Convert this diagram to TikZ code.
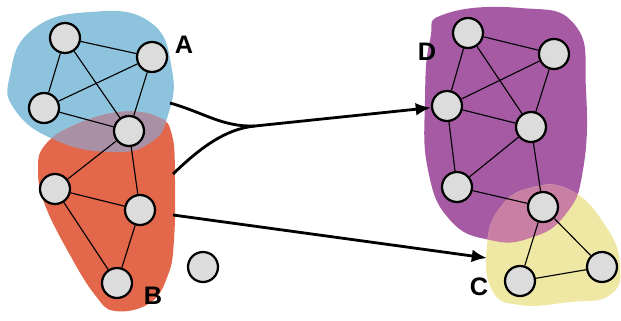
\documentclass[tikz,border=0pt]{standalone}
\usepackage{fontspec}
\setsansfont{Liberation Sans}
\usetikzlibrary{arrows.meta}

\definecolor{blobA}{HTML}{8DC3DD}
\definecolor{blobB}{HTML}{E2674B}
\definecolor{blobC}{HTML}{EEE8A4}
\definecolor{blobD}{HTML}{A65AA4}
\definecolor{blobAB}{HTML}{AA90A4}
\definecolor{blobCD}{HTML}{C97FA3}
\definecolor{vgray}{HTML}{DCDCDC}

\pgfdeclarelayer{back}
\pgfdeclarelayer{mid}
\pgfsetlayers{back,mid,main}

\tikzset{
    vertex/.style={circle, draw=black, line width=1.6pt, fill=vgray, minimum size=0.75cm, inner sep=0pt},
    link/.style={line width=0.8pt},
    flow/.style={line width=2pt},
    tag/.style={font=\sffamily\bfseries\fontsize{18}{18}\selectfont, inner sep=0pt}
}

% blob outlines (pixel coordinates, y downwards)
\newcommand{\shapeA}{plot[smooth cycle, tension=0.8] coordinates {(10,75) (32,30) (90,12) (150,22) (172,70) (168,115) (150,143) (110,152) (55,140) (15,110)}}
\newcommand{\shapeB}{plot[smooth cycle, tension=0.7] coordinates {(120,112) (158,117) (172,135) (175,180) (174,240) (168,275) (150,303) (115,311) (95,295) (70,255) (45,205) (38,170) (45,145) (75,125)}}
\newcommand{\shapeD}{plot[smooth cycle, tension=0.8] coordinates {(445,14) (520,8) (575,25) (586,90) (583,170) (565,215) (530,238) (490,240) (450,220) (428,170) (425,100) (430,40)}}
\newcommand{\shapeC}{plot[smooth cycle, tension=0.8] coordinates {(500,208) (530,188) (570,190) (605,225) (620,265) (610,295) (570,302) (520,305) (492,290) (487,245)}}

\begin{document}
\begin{tikzpicture}[x=0.025cm, y=-0.025cm]
    \useasboundingbox (0, 0) rectangle (621, 321);

    % vertices of A and B
    \node[vertex] (a1) at (65, 38) {};
    \node[vertex] (a2) at (152, 57) {};
    \node[vertex] (a3) at (44, 108) {};
    \node[vertex] (a4) at (129, 131) {};
    \node[vertex] (b1) at (55, 189) {};
    \node[vertex] (b2) at (140, 210) {};
    \node[vertex] (b3) at (117, 283) {};
    \node[vertex] (iso) at (203, 267) {};

    % vertices of D and C
    \node[vertex] (d1) at (468, 33) {};
    \node[vertex] (d2) at (554, 54) {};
    \node[vertex] (d3) at (447, 106) {};
    \node[vertex] (d4) at (531, 127) {};
    \node[vertex] (d5) at (457, 187) {};
    \node[vertex] (d6) at (543, 207) {};
    \node[vertex] (c1) at (520, 281) {};
    \node[vertex] (c2) at (602, 267) {};

    % blobs
    \begin{pgfonlayer}{back}
        \fill[blobA] \shapeA;
        \fill[blobB] \shapeB;
        \begin{scope}
            \clip \shapeA;
            \fill[blobAB] \shapeB;
        \end{scope}
        \fill[blobD] \shapeD;
        \fill[blobC] \shapeC;
        \begin{scope}
            \clip \shapeD;
            \fill[blobCD] \shapeC;
        \end{scope}
    \end{pgfonlayer}

    % edges
    \begin{pgfonlayer}{mid}
    \foreach \u/\v in {a1/a2, a1/a3, a1/a4, a2/a3, a2/a4, a3/a4,
                       a4/b1, a4/b2, b1/b2, b1/b3, b2/b3,
                       d1/d2, d1/d3, d1/d4, d2/d3, d2/d4, d3/d4, d3/d5, d4/d5, d4/d6, d5/d6,
                       d6/c1, d6/c2, c1/c2}
        \draw[link] (\u) -- (\v);
    \end{pgfonlayer}

    % labels
    \node[tag] (lA) at (184, 45) {A};
    \node[tag] (lB) at (153, 296) {B};
    \node[tag] (lC) at (479, 287) {C};
    \node[tag] (lD) at (427, 52) {D};

    % flows
    \coordinate (outA) at (170, 103);
    \coordinate (outB1) at (173, 174);
    \coordinate (outB2) at (173, 215);
    \coordinate (join) at (255, 126);
    \coordinate (inC) at (487, 258);
    \draw[flow] (outA) .. controls (205, 113) and (222, 127) .. (join);
    \draw[flow] (outB1) .. controls (200, 148) and (225, 129) .. (join);
    \draw[flow, -{Latex[length=3.8mm, width=3.2mm]}] (join) -- (d3);
    \draw[flow, -{Latex[length=3.8mm, width=3.2mm]}] (outB2) -- (inC);
\end{tikzpicture}
\end{document}
